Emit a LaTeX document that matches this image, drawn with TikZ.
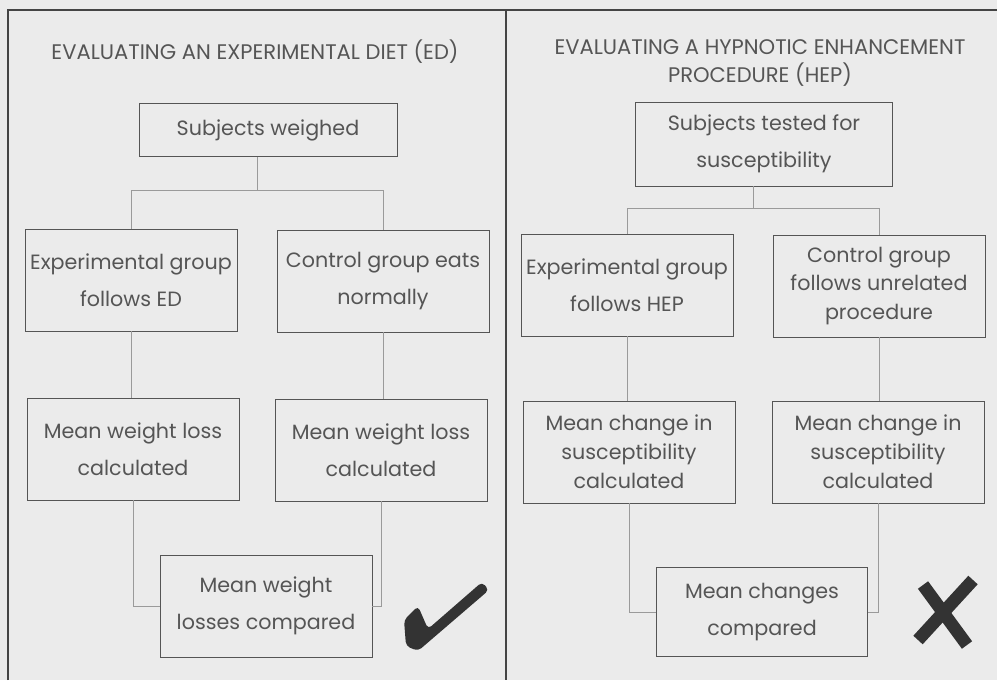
\documentclass[tikz,border=0pt]{standalone}
\usepackage{fontspec}
\setmainfont{Poppins}
\usetikzlibrary{calc}

\definecolor{paper}{HTML}{EBEBEB}
\definecolor{ink}{HTML}{555555}
\definecolor{rule}{HTML}{444444}
\definecolor{wire}{HTML}{9A9A9A}
\definecolor{tickink}{HTML}{333333}

\tikzset{
  stepbox/.style={draw=ink, line width=0.6pt, text=ink, minimum width=5.3cm, minimum height=2.55cm, align=center, inner sep=0pt, font=\fontsize{14.7}{26}\selectfont},
  tallbox/.style={stepbox, font=\fontsize{14.7}{20.5}\selectfont},
  link/.style={draw=wire, line width=0.4pt},
  heading/.style={text=ink, align=center, font=\fontsize{15}{19.5}\selectfont}
}

\begin{document}
\begin{tikzpicture}[x=0.025cm, y=-0.025cm]
\useasboundingbox (0,0) rectangle (997,680);
\fill[paper] (0,0) rectangle (997,680);
\draw[rule, line width=1.4pt] (8,680) -- (8,10) -- (997,10);
\draw[rule, line width=1.4pt] (506,10) -- (506,680);

\node[heading] (tl) at (255,52) {EVALUATING AN EXPERIMENTAL DIET (ED)};
\node[heading] (tr) at (760,63) {EVALUATING A HYPNOTIC ENHANCEMENT\\PROCEDURE (HEP)};

\node[stepbox, minimum width=6.45cm, minimum height=1.325cm] (sw) at (268,130) {Subjects weighed};
\node[stepbox] (eg) at (131,280) {Experimental group\\follows ED};
\node[stepbox] (cg) at (383,281) {Control group eats\\normally};
\node[stepbox] (ml) at (133,449) {Mean weight loss\\calculated};
\node[stepbox] (mr) at (381,450) {Mean weight loss\\calculated};
\node[stepbox] (mc) at (266,606) {Mean weight\\losses compared};

\node[stepbox, minimum width=6.425cm, minimum height=2.1cm] (st) at (764,144) {Subjects tested for\\susceptibility};
\node[stepbox] (eh) at (627,285) {Experimental group\\follows HEP};
\node[tallbox] (cu) at (879,286) {Control group\\follows unrelated\\procedure};
\node[tallbox] (chl) at (629,452) {Mean change in\\susceptibility\\calculated};
\node[tallbox] (chr) at (878,452) {Mean change in\\susceptibility\\calculated};
\node[stepbox, minimum width=5.275cm, minimum height=2.225cm] (cc) at (762,612) {Mean changes\\compared};

\coordinate (ja) at (0,190);
\coordinate (jb) at (0,208);
\coordinate (sa) at ($(eg.north)!.5!(cg.north)$);
\coordinate (sb) at ($(eh.north)!.5!(cu.north)$);

\draw[link] (sa |- sw.south) -- (sa |- ja);
\draw[link] (eg.north) -- (eg.north |- ja) -- (cg.north |- ja) -- (cg.north);
\draw[link] (eg.south) -- (eg.south |- ml.north);
\draw[link] (cg.south) -- (cg.south |- mr.north);
\draw[link] (ml.south) |- (mc.west);
\draw[link] (mr.south) |- (mc.east);

\draw[link] (sb |- st.south) -- (sb |- jb);
\draw[link] (eh.north) -- (eh.north |- jb) -- (cu.north |- jb) -- (cu.north);
\draw[link] (eh.south) -- (eh.south |- chl.north);
\draw[link] (cu.south) -- (cu.south |- chr.north);
\draw[link] (chl.south) |- (cc.west);
\draw[link] (chr.south) |- (cc.east);

\fill[tickink, rounded corners=3pt] (404,620) -- (418,606) -- (428,629) -- (482,582) -- (489,590) -- (418,651) -- (406,646) -- cycle;
\draw[tickink, line width=9pt] (923,585) -- (967,645) (973,580) -- (918,640);
\end{tikzpicture}
\end{document}
